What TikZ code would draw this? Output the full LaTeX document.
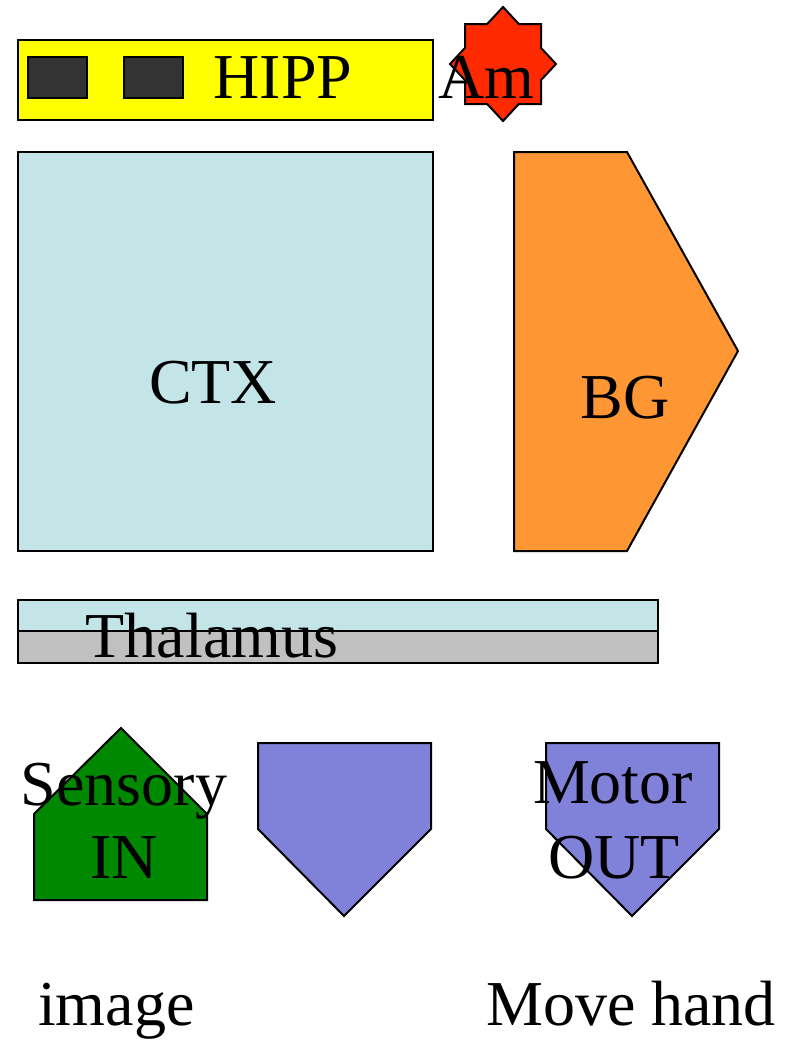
\documentclass[tikz,border=0pt]{standalone}
\usepackage{fontspec}
\setmainfont{Liberation Serif}
\begin{document}
\begin{tikzpicture}[x=1pt,y=-1pt,
  shp/.style={draw=black,line width=2pt,line join=miter},
  lbl/.style={inner sep=0pt,anchor=base,font=\fontsize{64}{73}\selectfont,align=center}]
\definecolor{hipp}{HTML}{FFFF00}
\definecolor{darkbox}{HTML}{333333}
\definecolor{amred}{HTML}{FF2A00}
\definecolor{ctxblue}{HTML}{C4E5E8}
\definecolor{bgorange}{HTML}{FD9633}
\definecolor{thalgray}{HTML}{C0C0C0}
\definecolor{sensgreen}{HTML}{008800}
\definecolor{motblue}{HTML}{7F82D8}
\useasboundingbox (0,0) rectangle (804,1045);
% HIPP
\draw[shp,fill=hipp] (18,40) rectangle (433,120);
\draw[shp,fill=darkbox] (28,57) rectangle (87,98);
\draw[shp,fill=darkbox] (124,57) rectangle (183,98);
\node[lbl] (hipp) at (283,98) {HIPP};
% Amygdala star
\draw[shp,fill=amred,shift={(503,64)}]
  (0,-57) -- (15.8,-40) -- (38,-40) -- (38,-16.1) -- (53,0) -- (38,16.1) -- (38,40) -- (15.8,40)
  -- (0,57) -- (-15.8,40) -- (-38,40) -- (-38,16.1) -- (-53,0) -- (-38,-16.1) -- (-38,-40) -- (-15.8,-40) -- cycle;
\node[lbl] (am) at (486,98) {Am};
% CTX
\draw[shp,fill=ctxblue] (18,152) rectangle (433,551);
\node[lbl] (ctx) at (213,403) {CTX};
% BG
\draw[shp,fill=bgorange] (514,152) -- (627,152) -- (738,351) -- (627,551) -- (514,551) -- cycle;
\node[lbl] (bg) at (625,418) {BG};
% Thalamus
\draw[shp,fill=ctxblue] (18,600) rectangle (658,631);
\draw[shp,fill=thalgray] (18,631) rectangle (658,663);
\node[lbl] (thal) at (212,657) {Thalamus};
% Sensory IN
\draw[shp,fill=sensgreen] (121,728) -- (207,814) -- (207,900) -- (34,900) -- (34,814) -- cycle;
\node[lbl] (sens) at (124,805) {Sensory};
\node[lbl] (sensin) at (124,878) {IN};
% middle pentagon
\draw[shp,fill=motblue] (258,743) -- (431,743) -- (431,829) -- (344,916) -- (258,829) -- cycle;
% Motor OUT
\draw[shp,fill=motblue] (546,743) -- (719,743) -- (719,829) -- (632,916) -- (546,829) -- cycle;
\node[lbl] (motor) at (613,803) {Motor};
\node[lbl] (out) at (614,878) {OUT};
% bottom labels
\node[lbl,anchor=base west] (img) at (38,1025) {image};
\node[lbl,anchor=base west] (move) at (486,1025) {Move hand};
\end{tikzpicture}
\end{document}
